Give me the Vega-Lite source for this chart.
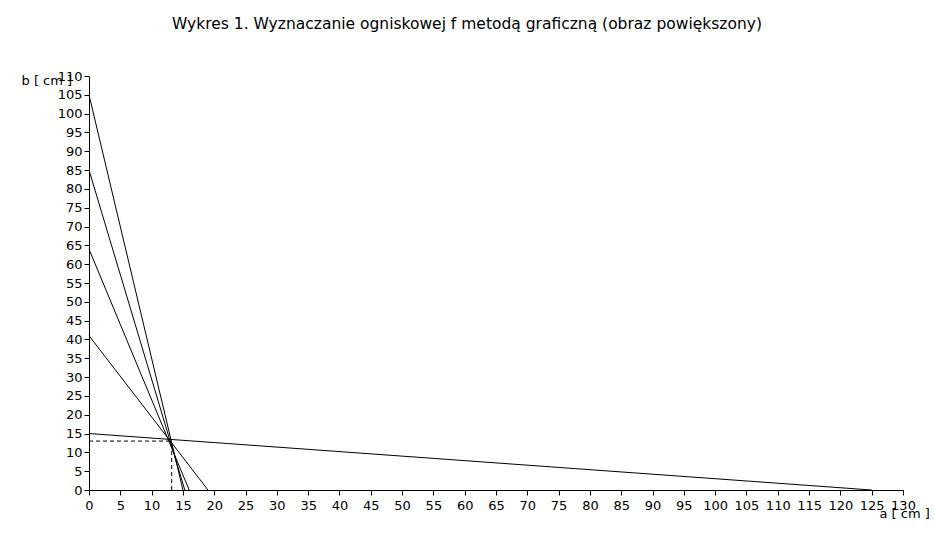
{
  "$schema": "https://vega.github.io/schema/vega-lite/v6.json",
  "width": 814,
  "height": 414,
  "autosize": {"type": "none"},
  "padding": {"left": 89, "top": 76, "right": 31, "bottom": 58},
  "background": "white",
  "title": {
    "text": "Wykres 1. Wyznaczanie ogniskowej f metodą graficzną (obraz powiększony)",
    "font": "DejaVu Sans",
    "fontSize": 15.5,
    "fontWeight": "normal",
    "color": "#000000",
    "anchor": "middle",
    "dx": -29,
    "offset": 38
  },
  "config": {
    "view": {"stroke": null},
    "axis": {
      "domainColor": "#000000",
      "tickColor": "#000000",
      "labelColor": "#000000",
      "labelFont": "DejaVu Sans",
      "labelFontSize": 13,
      "labelOverlap": false,
      "labelBound": false,
      "labelFlush": false,
      "titleFont": "DejaVu Sans",
      "titleFontSize": 13,
      "titleFontWeight": "normal",
      "titleColor": "#000000",
      "grid": false,
      "tickSize": 5,
      "domainWidth": 1,
      "tickWidth": 1
    }
  },
  "datasets": {
    "lines": [
      {"series": "s1", "a": 0, "b": 105},
      {"series": "s1", "a": 15, "b": 0},
      {"series": "s2", "a": 0, "b": 85},
      {"series": "s2", "a": 15.3, "b": 0},
      {"series": "s3", "a": 0, "b": 64},
      {"series": "s3", "a": 16, "b": 0},
      {"series": "s4", "a": 0, "b": 41},
      {"series": "s4", "a": 19, "b": 0},
      {"series": "s5", "a": 0, "b": 15},
      {"series": "s5", "a": 125, "b": 0}
    ],
    "dashed": [
      {"series": "h", "a": 0, "b": 13},
      {"series": "h", "a": 13.2, "b": 13},
      {"series": "v", "a": 13.2, "b": 0},
      {"series": "v", "a": 13.2, "b": 13}
    ]
  },
  "encoding": {
    "x": {
      "field": "a",
      "type": "quantitative",
      "scale": {"domain": [0, 130], "nice": false},
      "axis": {
        "values": [0,5,10,15,20,25,30,35,40,45,50,55,60,65,70,75,80,85,90,95,100,105,110,115,120,125,130],
        "title": "a [ cm ]",
        "titleX": 790,
        "titleY": 23,
        "titleAlign": "left",
        "titleBaseline": "middle",
        "labelPadding": 4
      }
    },
    "y": {
      "field": "b",
      "type": "quantitative",
      "scale": {"domain": [0, 110], "nice": false},
      "axis": {
        "values": [0,5,10,15,20,25,30,35,40,45,50,55,60,65,70,75,80,85,90,95,100,105,110],
        "title": "b [ cm ]",
        "titleAngle": 0,
        "titleX": -68,
        "titleY": 4,
        "titleAlign": "left",
        "titleBaseline": "middle",
        "labelPadding": 2
      }
    },
    "detail": {"field": "series"}
  },
  "layer": [
    {
      "data": {"name": "dashed"},
      "mark": {"type": "line", "color": "#000000", "strokeWidth": 1, "strokeDash": [4, 3]},
      "encoding": {"order": {"field": "b"}}
    },
    {
      "data": {"name": "lines"},
      "mark": {"type": "line", "color": "#000000", "strokeWidth": 1},
      "encoding": {"order": {"field": "a"}}
    }
  ]
}
